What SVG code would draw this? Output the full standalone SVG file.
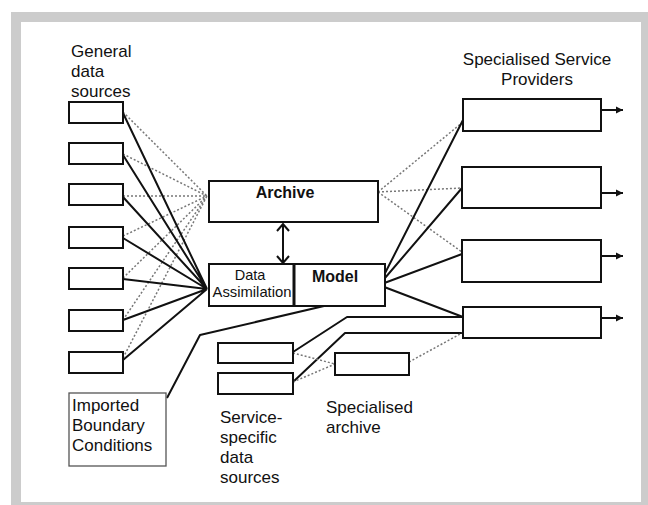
<svg xmlns="http://www.w3.org/2000/svg" width="648" height="505" viewBox="0 0 648 505">
<style>
.box{fill:#fff;stroke:#111;stroke-width:2}
.thin{fill:#fff;stroke:#555;stroke-width:1.3}
.solid{fill:none;stroke:#111;stroke-width:2;stroke-linejoin:round}
.dot{fill:none;stroke:#777;stroke-width:1.5;stroke-dasharray:2 2}
.t{font-family:"Liberation Sans",Arial,sans-serif;font-size:17px;fill:#111}
.b{font-family:"Liberation Sans",Arial,sans-serif;font-size:16px;font-weight:bold;fill:#111}
.s{font-family:"Liberation Sans",Arial,sans-serif;font-size:14.5px;fill:#111}
</style>
<defs>
<marker id="head" markerWidth="8" markerHeight="8" refX="7" refY="4" orient="auto" markerUnits="userSpaceOnUse">
<path d="M0,0.5 L7,4 L0,7.5 Z" fill="#111"/>
</marker>
<marker id="chev" markerWidth="10" markerHeight="14" refX="8" refY="7" orient="auto-start-reverse" markerUnits="userSpaceOnUse" viewBox="0 0 10 14">
<path d="M1,1 L8,7 L1,13" fill="none" stroke="#111" stroke-width="2"/>
</marker>
</defs>
<rect x="11" y="12" width="637" height="493" fill="#cccccc"/>
<rect x="21" y="22" width="620" height="480" fill="#ffffff"/>

<g id="connectors">
<path class="dot" d="M123,112 L207,196 M123,154 L207,196 M123,196 L207,196 M123,236 L207,196 M123,278 L207,196 M123,320 L207,196 M123,358 L207,196"/>
<path class="solid" d="M123,113 L207,289 M123,155 L207,289 M123,197 L207,289 M123,238 L207,289 M123,279 L207,289 M123,320 L207,289 M123,360 L207,289"/>
<path class="dot" d="M378,192 L463,122 M378,192 L462,188 M378,192 L462,252"/>
<path class="solid" d="M379,285 L463,120 M379,285 L462,188 M379,285 L462,254 M379,285 L463,317"/>
<polyline class="solid" points="324,306 200,335 167,398"/>
<polyline class="solid" points="293,352 347,317 463,317"/>
<polyline class="solid" points="293,382 345,333 463,333"/>
<path class="dot" d="M293,353 L335,364 M293,382 L335,364 M409,362 L462,333"/>
<line class="solid" x1="283" y1="224" x2="283" y2="263" marker-start="url(#chev)" marker-end="url(#chev)"/>
<line class="solid" x1="601" y1="110" x2="623" y2="110" marker-end="url(#head)"/>
<line class="solid" x1="601" y1="193" x2="623" y2="193" marker-end="url(#head)"/>
<line class="solid" x1="601" y1="256" x2="623" y2="256" marker-end="url(#head)"/>
<line class="solid" x1="601" y1="318" x2="623" y2="318" marker-end="url(#head)"/>
</g>

<g id="label-general">
<text class="t" x="71" y="57">General</text>
<text class="t" x="71" y="77">data</text>
<text class="t" x="71" y="97">sources</text>
</g>
<g id="src1"><rect class="box" x="69" y="102" width="54" height="21"/></g>
<g id="src2"><rect class="box" x="69" y="143" width="54" height="21"/></g>
<g id="src3"><rect class="box" x="69" y="184" width="54" height="21"/></g>
<g id="src4"><rect class="box" x="69" y="227" width="54" height="21"/></g>
<g id="src5"><rect class="box" x="69" y="268" width="54" height="21"/></g>
<g id="src6"><rect class="box" x="69" y="310" width="54" height="21"/></g>
<g id="src7"><rect class="box" x="69" y="352" width="54" height="21"/></g>

<g id="archive">
<rect class="box" x="209" y="181" width="169" height="41"/>
<text class="b" x="285" y="198" text-anchor="middle">Archive</text>
</g>
<g id="data-assimilation">
<rect class="box" x="209" y="264" width="85" height="42"/>
<text class="s" x="250" y="280" text-anchor="middle">Data</text>
<text class="s" x="252" y="297" text-anchor="middle" textLength="79" lengthAdjust="spacingAndGlyphs">Assimilation</text>
</g>
<g id="model">
<rect class="box" x="294" y="264" width="91" height="42"/>
<line x1="294" y1="264" x2="294" y2="306" stroke="#111" stroke-width="3"/>
<text class="b" x="335" y="282" text-anchor="middle">Model</text>
</g>

<g id="label-providers">
<text class="t" x="537" y="65" text-anchor="middle">Specialised Service</text>
<text class="t" x="537" y="85" text-anchor="middle">Providers</text>
</g>
<g id="prov1"><rect class="box" x="463" y="99" width="138" height="32"/></g>
<g id="prov2"><rect class="box" x="462" y="167" width="139" height="41"/></g>
<g id="prov3"><rect class="box" x="462" y="240" width="139" height="42"/></g>
<g id="prov4"><rect class="box" x="463" y="307" width="138" height="31"/></g>

<g id="imported-boundary">
<rect class="thin" x="69" y="393" width="97" height="73"/>
<text class="t" x="72" y="411">Imported</text>
<text class="t" x="72" y="431">Boundary</text>
<text class="t" x="72" y="451">Conditions</text>
</g>

<g id="ss1"><rect class="box" x="218" y="343" width="75" height="20"/></g>
<g id="ss2"><rect class="box" x="218" y="373" width="75" height="21"/></g>
<g id="label-service-specific">
<text class="t" x="220" y="423">Service-</text>
<text class="t" x="220" y="443">specific</text>
<text class="t" x="220" y="463">data</text>
<text class="t" x="220" y="483">sources</text>
</g>

<g id="specialised-archive">
<rect class="box" x="335" y="353" width="74" height="22"/>
<text class="t" x="326" y="413">Specialised</text>
<text class="t" x="326" y="433">archive</text>
</g>
</svg>
